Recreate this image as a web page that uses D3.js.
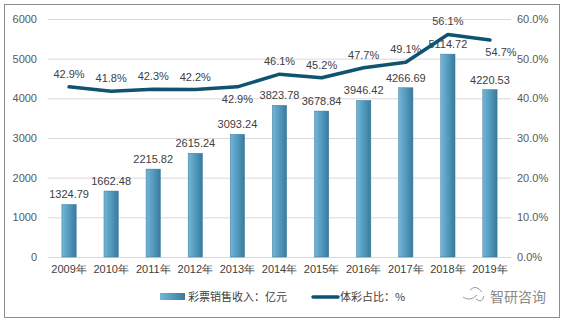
<!DOCTYPE html>
<html><head><meta charset="utf-8">
<script src="https://cdn.jsdelivr.net/npm/d3@7"></script>
<style>body{margin:0;background:#fff;}svg{display:block;font-family:"Noto Sans CJK SC","Liberation Sans",sans-serif;}</style>
</head><body><svg id="c" width="564" height="323"></svg>
<script>
const years = ["2009年","2010年","2011年","2012年","2013年","2014年","2015年","2016年","2017年","2018年","2019年"];
const revenue = [1324.79,1662.48,2215.82,2615.24,3093.24,3823.78,3678.84,3946.42,4266.69,5114.72,4220.53];
const share = [42.9,41.8,42.3,42.2,42.9,46.1,45.2,47.7,49.1,56.1,54.7];
const leftTicks = [0,1000,2000,3000,4000,5000,6000];
const rightTicks = [0,10,20,30,40,50,60];
const legendLabels = ["彩票销售收入：亿元","体彩占比：%"];
// label placement: 1 = above the line, -1 = below
const shareLabelSide = [1,1,1,1,-1,1,1,1,1,1,-1];

const svg = d3.select("#c");
svg.append("rect").attr("x",4.5).attr("y",4.5).attr("width",555).attr("height",313)
  .attr("fill","#fff").attr("stroke","#8c8c8c").attr("stroke-width",1);

const defs = svg.append("defs");
const g1 = defs.append("linearGradient").attr("id","barG").attr("x1","0").attr("x2","1").attr("y1","0").attr("y2","0");
g1.append("stop").attr("offset","0%").attr("stop-color","#74b6d6");
g1.append("stop").attr("offset","55%").attr("stop-color","#4f97bb");
g1.append("stop").attr("offset","100%").attr("stop-color","#3a7a99");

const x = d3.scaleBand().domain(years).range([48,511]).paddingInner(0.66).paddingOuter(0.33);
const y = d3.scaleLinear().domain([0,6000]).range([257,19]);
const y2 = d3.scaleLinear().domain([0,60]).range([257,19]);

// gridlines
svg.append("g").selectAll("line").data(leftTicks).join("line")
  .attr("x1",48).attr("x2",511).attr("y1",d=>y(d)+0.5).attr("y2",d=>y(d)+0.5)
  .attr("stroke","#d9d9d9").attr("stroke-width",1);

// left axis
const ax = svg.append("g").attr("transform","translate(41,0)")
  .call(d3.axisLeft(y).tickValues(leftTicks).tickSize(0).tickPadding(4).tickFormat(d3.format("d")));
ax.select(".domain").remove();
ax.selectAll("text").attr("font-size",11).attr("fill","#595959").attr("font-family","Liberation Sans, sans-serif");

// right axis
const ax2 = svg.append("g").attr("transform","translate(514,0)")
  .call(d3.axisRight(y2).tickValues(rightTicks).tickSize(0).tickPadding(3).tickFormat(d=>d.toFixed(1)+"%"));
ax2.select(".domain").remove();
ax2.selectAll("text").attr("font-size",11).attr("fill","#595959").attr("font-family","Liberation Sans, sans-serif");

// bottom axis
const ax3 = svg.append("g").attr("transform","translate(0,262)")
  .call(d3.axisBottom(x).tickSize(0).tickPadding(3));
ax3.select(".domain").remove();
ax3.selectAll("text").attr("font-size",11).attr("fill","#404040");

// bars
svg.append("g").selectAll("rect").data(revenue).join("rect")
  .attr("x",(d,i)=>x(years[i])).attr("width",x.bandwidth())
  .attr("y",d=>y(d)).attr("height",d=>y(0)-y(d))
  .attr("fill","url(#barG)").attr("stroke","#3a7a99").attr("stroke-width",0.5);

// bar labels
svg.append("g").selectAll("text").data(revenue).join("text")
  .attr("x",(d,i)=>x(years[i])+x.bandwidth()/2).attr("y",d=>y(d)-6)
  .attr("text-anchor","middle").attr("font-size",11).attr("fill","#404040")
  .attr("font-family","Liberation Sans, sans-serif")
  .text(d=>d.toFixed(2));

// line
const line = d3.line().x((d,i)=>x(years[i])+x.bandwidth()/2).y(d=>y2(d)).curve(d3.curveLinear);
svg.append("path").datum(share).attr("d",line).attr("fill","none")
  .attr("stroke","#0e5470").attr("stroke-width",3.5).attr("stroke-linejoin","round").attr("stroke-linecap","round");

// share labels
svg.append("g").selectAll("text").data(share).join("text")
  .attr("x",(d,i)=>x(years[i])+x.bandwidth()/2+(i===10?11:0))
  .attr("y",(d,i)=>shareLabelSide[i]>0 ? y2(d)-9 : y2(d)+16)
  .attr("text-anchor","middle").attr("font-size",11).attr("fill","#404040")
  .attr("font-family","Liberation Sans, sans-serif")
  .text(d=>d.toFixed(1)+"%");

// legend
const lg = svg.append("g");
lg.append("rect").attr("x",160).attr("y",293).attr("width",25).attr("height",7).attr("fill","url(#barG)");
lg.append("text").attr("x",188).attr("y",301).attr("font-size",11).attr("fill","#404040").text(legendLabels[0]);
lg.append("line").attr("x1",313).attr("x2",338).attr("y1",297).attr("y2",297).attr("stroke","#0e5470").attr("stroke-width",3.5).attr("stroke-linecap","round");
lg.append("text").attr("x",340).attr("y",301).attr("font-size",11).attr("fill","#404040").text(legendLabels[1]);

// watermark
const wm = svg.append("g").attr("fill","none").attr("stroke","#9a9a9a").attr("stroke-width",1);
wm.append("path").attr("d","M463,297 Q470,302 477,295 M470,290 Q476,284 482,292 M476,299 Q482,304 484,296");
svg.append("text").attr("x",490).attr("y",302).attr("font-size",14).attr("fill","#8a8a8a").text("智研咨询");
</script></body></html>
